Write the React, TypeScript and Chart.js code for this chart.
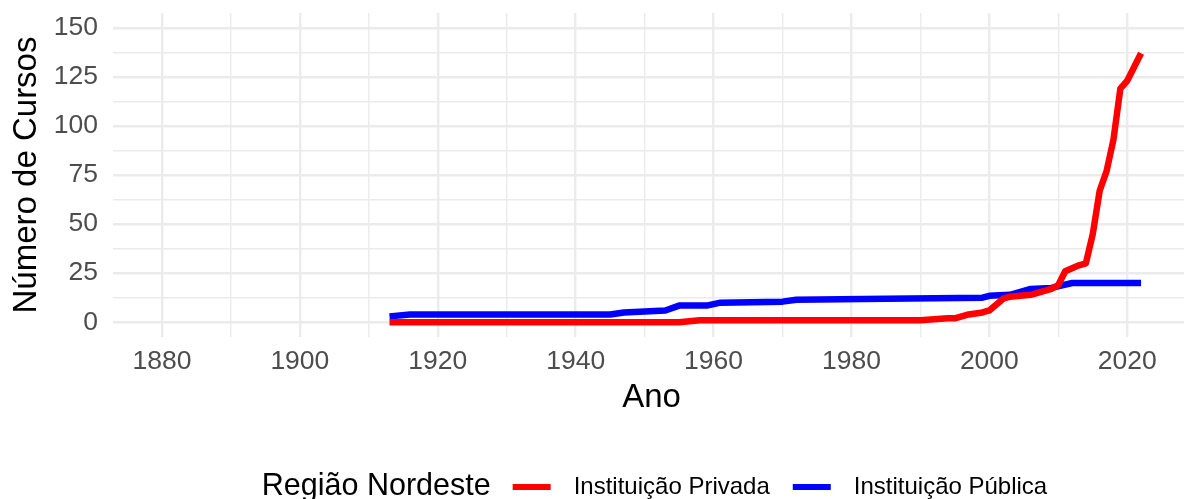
import React, { useEffect, useRef } from "react";
import { Chart, registerables } from "chart.js";

Chart.register(...registerables);

// ---- data ----
const privYears = [1913, 1955, 1958, 1985, 1990, 1994, 1995, 1996, 1997, 1999, 2000, 2002, 2003, 2006, 2008, 2009, 2010, 2011, 2012, 2013, 2014, 2015, 2016, 2017, 2018, 2019, 2020, 2021, 2022];
const privValues = [0, 0, 1, 1, 1, 2, 2, 3, 4, 5, 6, 12, 13, 14, 16, 17, 19, 26, 27.5, 29, 30, 45, 67, 77, 93, 119, 123, 130, 137];

const pubYears = [1913, 1916, 1945, 1947, 1953, 1955, 1959, 1961, 1970, 1972, 1985, 1999, 2000, 2003, 2006, 2009, 2012, 2022];
const pubValues = [3, 4, 4, 5, 6, 8.5, 8.5, 10, 10.5, 11.5, 12, 12.5, 13.5, 14, 17, 17.5, 20, 20];

const seriesLabels = ["Instituição Privada", "Instituição Pública"];
const seriesColors = ["#ff0000", "#0000ff"];
const legendTitle = "Região Nordeste";
const xTitle = "Ano";
const yTitle = "Número de Cursos";

const xTickValues = [1880, 1890, 1900, 1910, 1920, 1930, 1940, 1950, 1960, 1970, 1980, 1990, 2000, 2010, 2020];
const xLabelledTicks = [1880, 1900, 1920, 1940, 1960, 1980, 2000, 2020];
const yTickValues = [0, 12.5, 25, 37.5, 50, 62.5, 75, 87.5, 100, 112.5, 125, 137.5, 150];
const yLabelledTicks = [0, 25, 50, 75, 100, 125, 150];

const FONT = '"Liberation Sans", Arial, Helvetica, sans-serif';

const legendPlugin = {
  id: "ggLegend",
  afterDraw(chart: any) {
    const ctx = chart.ctx;
    ctx.save();
    const cy = 487;
    const titleFont = `30.5px ${FONT}`;
    const labelFont = `24px ${FONT}`;
    ctx.font = titleFont;
    const tw = ctx.measureText(legendTitle).width;
    ctx.font = labelFont;
    const lws = seriesLabels.map((l) => ctx.measureText(l).width);
    const keyW = 38;
    const gapTitle = 22;
    const gapKey = 23;
    const gapItem = 23;
    const total = tw + gapTitle + keyW + gapKey + lws[0] + gapItem + keyW + gapKey + lws[1];
    let x = 654.5 - total / 2;
    ctx.textBaseline = "middle";
    ctx.textAlign = "left";
    ctx.fillStyle = "#000000";
    ctx.font = titleFont;
    ctx.fillText(legendTitle, x, cy);
    x += tw + gapTitle;
    ctx.font = labelFont;
    seriesLabels.forEach((label, i) => {
      ctx.strokeStyle = seriesColors[i];
      ctx.lineWidth = 6;
      ctx.lineCap = "butt";
      ctx.beginPath();
      ctx.moveTo(x, cy);
      ctx.lineTo(x + keyW, cy);
      ctx.stroke();
      x += keyW + gapKey;
      ctx.fillStyle = "#000000";
      ctx.fillText(label, x, cy);
      x += lws[i] + gapItem;
    });
    ctx.restore();
  },
};

export default function App() {
  const canvasRef = useRef<HTMLCanvasElement | null>(null);

  useEffect(() => {
    document.body.style.margin = "0";
    const canvas = canvasRef.current;
    if (!canvas) return;
    const chart = new Chart(canvas, {
      type: "line",
      data: {
        datasets: [
          {
            label: seriesLabels[0],
            data: privYears.map((y, i) => ({ x: y, y: privValues[i] })),
            borderColor: seriesColors[0],
            backgroundColor: seriesColors[0],
            borderWidth: 6.5,
            borderCapStyle: "butt",
            borderJoinStyle: "round",
            pointRadius: 0,
            tension: 0,
          },
          {
            label: seriesLabels[1],
            data: pubYears.map((y, i) => ({ x: y, y: pubValues[i] })),
            borderColor: seriesColors[1],
            backgroundColor: seriesColors[1],
            borderWidth: 6.5,
            borderCapStyle: "butt",
            borderJoinStyle: "round",
            pointRadius: 0,
            tension: 0,
          },
        ],
      },
      options: {
        responsive: false,
        animation: false,
        devicePixelRatio: 1,
        layout: { padding: { top: 13, right: 0, bottom: 0, left: 0 } },
        plugins: {
          legend: { display: false },
          tooltip: { enabled: false },
        },
        scales: {
          x: {
            type: "linear",
            min: 1872.9,
            max: 2029.1,
            afterBuildTicks: (s: any) => {
              s.ticks = xTickValues.map((v) => ({ value: v }));
            },
            afterFit: (s: any) => {
              s.height = 162;
              s.paddingLeft = 0;
              s.paddingRight = 0;
            },
            border: { display: false },
            grid: {
              color: "#ebebeb",
              lineWidth: (c: any) => (c.tick && xLabelledTicks.includes(c.tick.value) ? 2.4 : 1.4),
              drawTicks: false,
            },
            ticks: {
              autoSkip: false,
              maxRotation: 0,
              padding: 9,
              color: "#4d4d4d",
              font: { family: FONT, size: 26.5 },
              callback: (v: any) => (xLabelledTicks.includes(Number(v)) ? String(v) : ""),
            },
            title: {
              display: true,
              text: xTitle,
              color: "#000000",
              font: { family: FONT, size: 33 },
              padding: { top: 0, bottom: 81 },
            },
          },
          y: {
            type: "linear",
            min: -7.5,
            max: 157.5,
            afterBuildTicks: (s: any) => {
              s.ticks = yTickValues.map((v) => ({ value: v }));
            },
            afterFit: (s: any) => {
              s.width = 113;
              s.paddingTop = 0;
              s.paddingBottom = 0;
            },
            border: { display: false },
            grid: {
              color: "#ebebeb",
              lineWidth: (c: any) => (c.tick && yLabelledTicks.includes(c.tick.value) ? 2.4 : 1.4),
              drawTicks: false,
            },
            ticks: {
              autoSkip: false,
              padding: 15,
              color: "#4d4d4d",
              font: { family: FONT, size: 26.5 },
              callback: (v: any) => (yLabelledTicks.includes(Number(v)) ? String(v) : ""),
            },
            title: {
              display: true,
              text: yTitle,
              color: "#000000",
              font: { family: FONT, size: 33 },
              padding: { top: 7, bottom: 0 },
            },
          },
        },
      },
      plugins: [legendPlugin],
    } as any);
    return () => chart.destroy();
  }, []);

  return (
    <div style={{ position: "fixed", left: 0, top: 0, width: 1184, height: 499, overflow: "hidden", background: "#ffffff" }}>
      <canvas ref={canvasRef} width={1190} height={499} style={{ display: "block", width: 1190, height: 499 }} />
    </div>
  );
}
